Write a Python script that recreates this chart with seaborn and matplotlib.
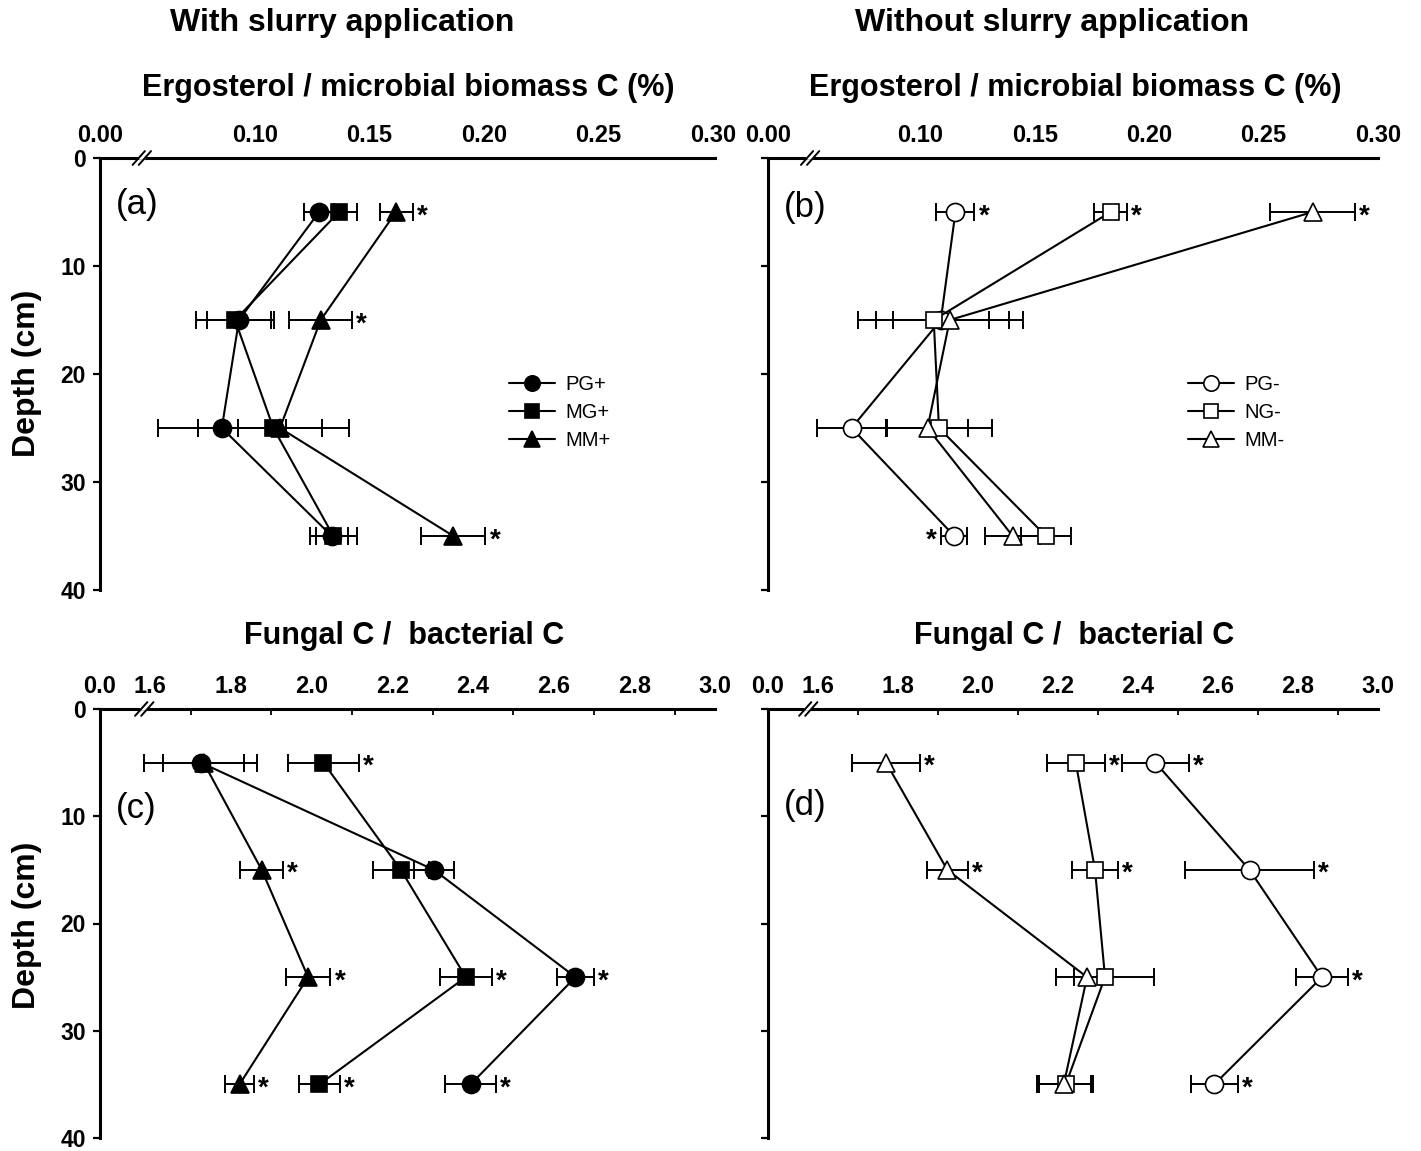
import numpy as np
import pandas as pd
import matplotlib
matplotlib.use("Agg")
import matplotlib.pyplot as plt
import seaborn as sns

# ---------------- data ----------------
depth = [5, 15, 25, 35]

# (a) With slurry: ergosterol / microbial biomass C (%)
a_PG = [0.128, 0.093, 0.0855, 0.1335]
a_PG_err = [0.0066, 0.014, 0.028, 0.007]
a_PG_star = [0, 0, 0, 0]
a_MG = [0.1367, 0.0913, 0.108, 0.1342]
a_MG_err = [0.0077, 0.017, 0.033, 0.0103]
a_MG_star = [0, 0, 0, 0]
a_MM = [0.1616, 0.1287, 0.1109, 0.1866]
a_MM_err = [0.0072, 0.0137, 0.0185, 0.014]
a_MM_star = [1, 1, 0, 1]

# (b) Without slurry: ergosterol / microbial biomass C (%)
b_PG = [0.1154, 0.109, 0.070, 0.1149]
b_PG_err = [0.0083, 0.021, 0.015, 0.0057]
b_PG_star = [1, 0, 0, -1]
b_NG = [0.1832, 0.1059, 0.1082, 0.1549]
b_NG_err = [0.0072, 0.033, 0.023, 0.011]
b_NG_star = [1, 0, 0, 0]
b_MM = [0.2714, 0.1129, 0.1032, 0.1404]
b_MM_err = [0.0185, 0.032, 0.0175, 0.012]
b_MM_star = [1, 0, 0, 0]

# (c) With slurry: fungal C / bacterial C
c_PG = [1.725, 2.303, 2.654, 2.394]
c_PG_err = [0.14, 0.05, 0.045, 0.063]
c_PG_star = [0, 0, 1, 1]
c_MG = [2.029, 2.221, 2.382, 2.019]
c_MG_err = [0.088, 0.07, 0.064, 0.05]
c_MG_star = [1, 0, 1, 1]
c_MM = [1.732, 1.876, 1.991, 1.821]
c_MM_err = [0.10, 0.053, 0.055, 0.035]
c_MM_star = [0, 1, 1, 1]

# (d) Without slurry: fungal C / bacterial C
d_PG = [2.444, 2.679, 2.86, 2.591]
d_PG_err = [0.083, 0.16, 0.065, 0.058]
d_PG_star = [1, 1, 1, 1]
d_NG = [2.245, 2.293, 2.318, 2.22]
d_NG_err = [0.073, 0.057, 0.122, 0.068]
d_NG_star = [1, 1, 0, 0]
d_MM = [1.771, 1.924, 2.273, 2.215]
d_MM_err = [0.085, 0.052, 0.033, 0.068]
d_MM_star = [1, 1, 0, 0]

ergo_ticks = [0.10, 0.15, 0.20, 0.25, 0.30]
ergo_labels = ["0.10", "0.15", "0.20", "0.25", "0.30"]
fung_ticks = [1.6, 1.8, 2.0, 2.2, 2.4, 2.6, 2.8, 3.0]
fung_labels = ["1.6", "1.8", "2.0", "2.2", "2.4", "2.6", "2.8", "3.0"]
fung_minor = [1.7, 1.9, 2.1, 2.3, 2.5, 2.7, 2.9]
depth_ticks = [0, 10, 20, 30, 40]

# ---------------- style ----------------
sns.set_theme(style="white")
plt.rcParams["font.family"] = ["Liberation Sans", "DejaVu Sans"]
plt.rcParams["text.color"] = "black"
plt.rcParams["axes.labelcolor"] = "black"
plt.rcParams["xtick.color"] = "black"
plt.rcParams["ytick.color"] = "black"

W, H = 1421, 1151
fig = plt.figure(figsize=(W / 100, H / 100), dpi=100)


def rect(l, r, t, b):
    return [l / W, 1 - b / H, (r - l) / W, (b - t) / H]


axA = fig.add_axes(rect(100, 715, 158, 590))
axB = fig.add_axes(rect(768, 1378, 158, 590))
axC = fig.add_axes(rect(100, 715, 709, 1138))
axD = fig.add_axes(rect(768, 1378, 709, 1138))

MS = 13
LW = 1.5


def draw_series(ax, vals, errs, stars, marker, filled, label):
    df = pd.DataFrame({"value": vals, "depth": depth})
    ax.errorbar(vals, depth, xerr=errs, fmt="none", ecolor="black",
                elinewidth=1.4, capsize=6.5, capthick=1.4, zorder=2)
    sns.lineplot(data=df, x="value", y="depth", orient="y", sort=False,
                 estimator=None, color="black", linewidth=LW, marker=marker,
                 markersize=MS if marker != "s" else MS - 1,
                 markerfacecolor="black" if filled else "white",
                 markeredgecolor="black", markeredgewidth=1.2,
                 label=label, legend=False, ax=ax, zorder=3)
    for v, e, d, s in zip(vals, errs, depth, stars):
        if s == 1:
            ax.annotate("*", xy=(v + e, d), xytext=(3, -3), textcoords="offset points",
                        ha="left", va="center", fontsize=20, fontweight="bold",
                        color="black")
        elif s == -1:
            ax.annotate("*", xy=(v - e, d), xytext=(-3, -3), textcoords="offset points",
                        ha="right", va="center", fontsize=20, fontweight="bold",
                        color="black")


def setup(ax, xlim, ticks, labels, zero_label, minor=None, ylabels=True, brk=0.064):
    ax.set_xlim(*xlim)
    ax.set_ylim(40, 0)
    for s in ["right", "bottom"]:
        ax.spines[s].set_visible(False)
    for s in ["top", "left"]:
        ax.spines[s].set_linewidth(2.2)
        ax.spines[s].set_color("black")
    ax.xaxis.tick_top()
    ax.set_xticks([xlim[0]] + ticks)
    ax.set_xticklabels([zero_label] + labels, fontsize=17, fontweight="bold")
    ax.tick_params(axis="x", which="major", length=0, pad=8)
    if minor is not None:
        ax.set_xticks(minor, minor=True)
        ax.tick_params(axis="x", which="minor", direction="in", length=4,
                       width=1.3, top=True, bottom=False, color="black")
    ax.set_yticks(depth_ticks)
    if ylabels:
        ax.set_yticklabels([str(t) for t in depth_ticks], fontsize=16.5, fontweight="bold")
    else:
        ax.set_yticklabels([])
    ax.tick_params(axis="y", direction="out", length=5, width=1.6, left=True,
                   color="black", pad=5)
    ax.set_xlabel("")
    ax.set_ylabel("")
    ax.grid(False)
    # axis break marks on top spine
    dx, dy = 0.010, 0.016
    gap = 0.010
    for off in (0.0, gap):
        x0 = brk + off
        ax.plot([x0 - dx, x0 + dx], [1 - dy, 1 + dy], color="black", lw=1.4,
                transform=ax.transAxes, clip_on=False, zorder=5)
    ax.plot([brk + 0.002, brk + gap - 0.002], [1, 1], color="white", lw=2.6,
            transform=ax.transAxes, clip_on=False, zorder=4)


# ---------------- panels ----------------
draw_series(axA, a_PG, a_PG_err, a_PG_star, "o", True, "PG+")
draw_series(axA, a_MG, a_MG_err, a_MG_star, "s", True, "MG+")
draw_series(axA, a_MM, a_MM_err, a_MM_star, "^", True, "MM+")
setup(axA, (0.0323, 0.3009), ergo_ticks, ergo_labels, "0.00", brk=0.063)

draw_series(axB, b_PG, b_PG_err, b_PG_star, "o", False, "PG-")
draw_series(axB, b_NG, b_NG_err, b_NG_star, "s", False, "NG-")
draw_series(axB, b_MM, b_MM_err, b_MM_star, "^", False, "MM-")
setup(axB, (0.0335, 0.30), ergo_ticks, ergo_labels, "0.00", ylabels=False, brk=0.064)

draw_series(axC, c_PG, c_PG_err, c_PG_star, "o", True, "PG+")
draw_series(axC, c_MG, c_MG_err, c_MG_star, "s", True, "MG+")
draw_series(axC, c_MM, c_MM_err, c_MM_star, "^", True, "MM+")
setup(axC, (1.475, 2.994), fung_ticks, fung_labels, "0.0", minor=fung_minor, brk=0.067)

draw_series(axD, d_PG, d_PG_err, d_PG_star, "o", False, "PG-")
draw_series(axD, d_NG, d_NG_err, d_NG_star, "s", False, "NG-")
draw_series(axD, d_MM, d_MM_err, d_MM_star, "^", False, "MM-")
setup(axD, (1.476, 3.0), fung_ticks, fung_labels, "0.0", minor=fung_minor,
      ylabels=False, brk=0.061)

# legends
for ax, anchor in ((axA, (0.648, 0.411)), (axB, (0.672, 0.411))):
    leg = ax.legend(loc="center left", bbox_to_anchor=anchor, frameon=False,
                    fontsize=14.5, handlelength=2.3, handletextpad=0.5,
                    labelspacing=0.45, borderpad=0, markerscale=0.85)
    for t in leg.get_texts():
        t.set_color("black")

# panel letters
for ax, lab, y in ((axA, "(a)", 0.893), (axB, "(b)", 0.886),
                   (axC, "(c)", 0.768), (axD, "(d)", 0.775)):
    ax.text(0.026, y, lab, transform=ax.transAxes, fontsize=25,
            ha="left", va="center", color="black")

# titles
tk = dict(ha="center", va="center", fontweight="bold", color="black")
fig.text(342 / W, 1 - 23 / H, "With slurry application", fontsize=23, **tk)
fig.text(1052 / W, 1 - 23 / H, "Without slurry application", fontsize=23, **tk)
fig.text(408 / W, 1 - 88 / H, "Ergosterol / microbial biomass C (%)", fontsize=22, **tk)
fig.text(1075 / W, 1 - 88 / H, "Ergosterol / microbial biomass C (%)", fontsize=22, **tk)
fig.text(404 / W, 1 - 636 / H, "Fungal C /  bacterial C", fontsize=22, **tk)
fig.text(1074 / W, 1 - 636 / H, "Fungal C /  bacterial C", fontsize=22, **tk)
fig.text(27 / W, 1 - 373 / H, "Depth (cm)", rotation=90, fontsize=23, **tk)
fig.text(27 / W, 1 - 925 / H, "Depth (cm)", rotation=90, fontsize=23, **tk)

fig.savefig("out.png", dpi=100, facecolor="white")
